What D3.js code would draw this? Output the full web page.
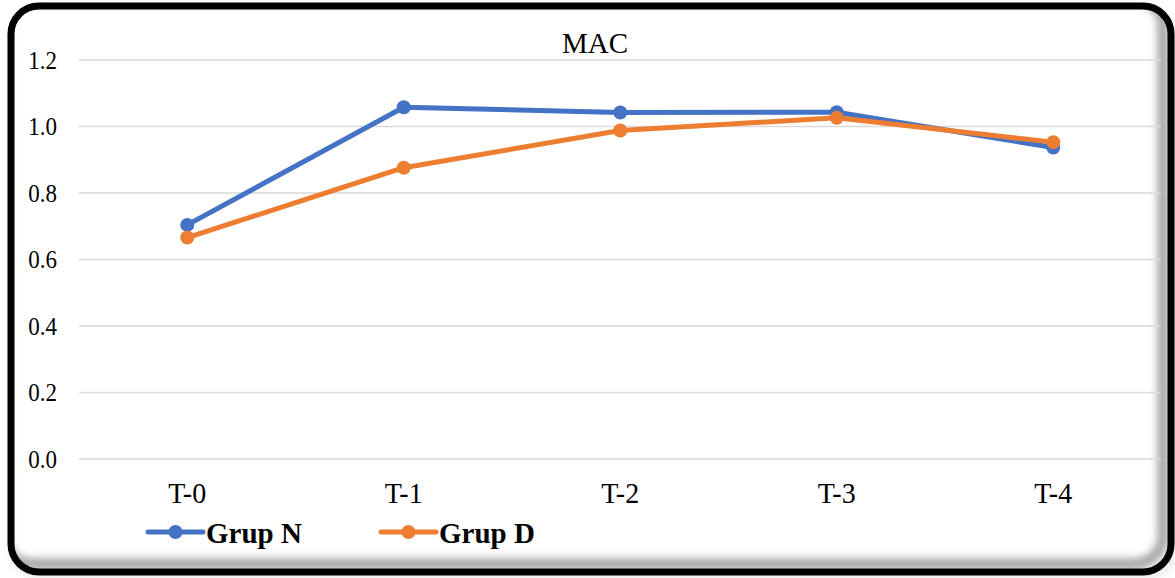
<!DOCTYPE html>
<html>
<head>
<meta charset="utf-8">
<script src="https://cdn.jsdelivr.net/npm/d3@7"></script>
<style>
  html, body { margin: 0; padding: 0; background: #ffffff; }
  svg { display: block; }
  text { font-family: "Liberation Serif", "Times New Roman", serif; fill: #000; }
</style>
</head>
<body>
<svg id="chart" width="1175" height="578"></svg>
<script>
// MAC scores per measurement time
const categories = ["T-0", "T-1", "T-2", "T-3", "T-4"];
const grupN = [0.704, 1.058, 1.042, 1.043, 0.937];
const grupD = [0.666, 0.876, 0.988, 1.026, 0.953];
const yTicks = [0.0, 0.2, 0.4, 0.6, 0.8, 1.0, 1.2];
const seriesNames = ["Grup N", "Grup D"];
const seriesColors = ["#4472C4", "#ED7D31"];
const title = "MAC";

const svg = d3.select("#chart");

const defs = svg.append("defs");
defs.append("clipPath").attr("id", "inner")
  .append("rect").attr("x", 11).attr("y", 6).attr("width", 1160).attr("height", 566).attr("rx", 28);
const blur = defs.append("filter").attr("id", "soft").attr("x", "-10%").attr("y", "-10%").attr("width", "120%").attr("height", "120%");
blur.append("feGaussianBlur").attr("stdDeviation", 4);

// faint drop shadow under the frame
svg.append("rect")
  .attr("x", 14).attr("y", 10).attr("width", 1160).attr("height", 566).attr("rx", 28)
  .attr("fill", "none").attr("stroke", "#bbbbbb").attr("stroke-width", 4)
  .attr("filter", "url(#soft)").attr("opacity", 0.6);

// white panel
svg.append("rect")
  .attr("x", 11).attr("y", 6).attr("width", 1160).attr("height", 566).attr("rx", 28)
  .attr("fill", "#ffffff");

// inner shadow along bottom and right edges
svg.append("g").attr("clip-path", "url(#inner)")
  .append("rect")
  .attr("x", 3).attr("y", -2).attr("width", 1160).attr("height", 566).attr("rx", 28)
  .attr("fill", "none").attr("stroke", "#9a9a9a").attr("stroke-width", 10)
  .attr("filter", "url(#soft)");

const x = d3.scaleBand().domain(categories).range([79, 1161.5]);
const y = d3.scaleLinear().domain([0, 1.2]).range([459, 60]);

// gridlines
svg.append("g").selectAll("line").data(yTicks).join("line")
  .attr("x1", 79).attr("x2", 1161)
  .attr("y1", d => y(d)).attr("y2", d => y(d))
  .attr("stroke", "#d9d9d9").attr("stroke-width", 1.5);

// y axis labels
const yAxis = d3.axisLeft(y).tickValues(yTicks).tickFormat(d3.format(".1f")).tickSize(0).tickPadding(0);
const yg = svg.append("g").attr("transform", "translate(57,0)").call(yAxis);
yg.select(".domain").remove();
yg.selectAll("text")
  .attr("font-family", "Liberation Serif, Times New Roman, serif")
  .attr("font-size", 23).attr("fill", "#000").attr("dy", "0.33em")
  .attr("transform", "scale(1,1.06)");

// x axis labels
const xAxis = d3.axisBottom(x).tickSize(0).tickPadding(0);
const xg = svg.append("g").attr("transform", "translate(0,503)").call(xAxis);
xg.select(".domain").remove();
xg.selectAll("text")
  .attr("font-family", "Liberation Serif, Times New Roman, serif")
  .attr("font-size", 28).attr("fill", "#000").attr("dy", 0)
  .attr("transform", "scale(1,1.08)");

// title
svg.append("text").attr("x", 595).attr("y", 53).attr("text-anchor", "middle")
  .attr("font-size", 29).text(title);

// series
const cx = d => x(d) + x.bandwidth() / 2;
const series = [grupN, grupD];
const line = d3.line().x((d, i) => cx(categories[i])).y(d => y(d));
series.forEach((vals, s) => {
  const g = svg.append("g");
  g.append("path").datum(vals).attr("d", line)
    .attr("fill", "none").attr("stroke", seriesColors[s]).attr("stroke-width", 5)
    .attr("stroke-linejoin", "round").attr("stroke-linecap", "round");
  g.selectAll("circle").data(vals).join("circle")
    .attr("cx", (d, i) => cx(categories[i])).attr("cy", d => y(d)).attr("r", 7)
    .attr("fill", seriesColors[s]);
});

// legend
const legendX = [148, 381];
seriesNames.forEach((name, s) => {
  const g = svg.append("g").attr("transform", `translate(${legendX[s]},532)`);
  g.append("line").attr("x1", 0).attr("x2", 55).attr("y1", 0).attr("y2", 0)
    .attr("stroke", seriesColors[s]).attr("stroke-width", 5).attr("stroke-linecap", "round");
  g.append("circle").attr("cx", 27.5).attr("cy", 0).attr("r", 7).attr("fill", seriesColors[s]);
  g.append("text").attr("x", 58).attr("y", 11).attr("font-size", 29).attr("font-weight", "bold").text(name);
});

// frame
svg.append("rect")
  .attr("x", 11).attr("y", 6).attr("width", 1160).attr("height", 566).attr("rx", 28)
  .attr("fill", "none").attr("stroke", "#000").attr("stroke-width", 7);
</script>
</body>
</html>
